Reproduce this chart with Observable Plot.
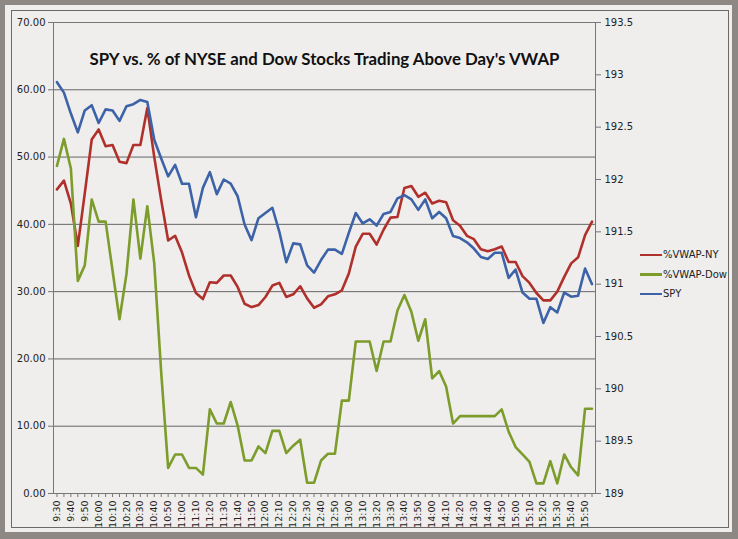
<!DOCTYPE html>
<html><head><meta charset="utf-8">
<script src="https://cdn.jsdelivr.net/npm/d3@7"></script>
<script src="https://cdn.jsdelivr.net/npm/@observablehq/plot@0.6"></script>
<style>
html,body{margin:0;padding:0;background:#8a8580;}
#wrap{position:relative;width:738px;height:539px;background:#8d8883;overflow:hidden;}
#inner{position:absolute;left:5px;top:5px;width:727px;height:527px;background:#efeeec;}
#frame{position:absolute;left:11px;top:10px;width:716px;height:516px;border:1px solid #6d6a66;}
#chart{position:absolute;left:0;top:0;}
#legend{position:absolute;left:640px;top:245px;font:10px "DejaVu Sans",sans-serif;color:#222;}
#legend div{height:19.5px;display:flex;align-items:center;}
#legend span.sw{display:inline-block;width:22px;height:2.5px;margin-right:1px;}
</style></head>
<body>
<div id="wrap"><div id="inner"></div><div id="frame"></div><div id="chart"></div>
<div id="legend"></div></div>
<script>
const title = "SPY vs. % of NYSE and Dow Stocks Trading Above Day's VWAP";
const times = ["9:30","9:35","9:40","9:45","9:50","9:55",
"10:00","10:05","10:10","10:15","10:20","10:25","10:30","10:35","10:40","10:45","10:50","10:55",
"11:00","11:05","11:10","11:15","11:20","11:25","11:30","11:35","11:40","11:45","11:50","11:55",
"12:00","12:05","12:10","12:15","12:20","12:25","12:30","12:35","12:40","12:45","12:50","12:55",
"13:00","13:05","13:10","13:15","13:20","13:25","13:30","13:35","13:40","13:45","13:50","13:55",
"14:00","14:05","14:10","14:15","14:20","14:25","14:30","14:35","14:40","14:45","14:50","14:55",
"15:00","15:05","15:10","15:15","15:20","15:25","15:30","15:35","15:40","15:45","15:50","15:55"];
const vwapNY = [45.2,46.5,43.1,36.8,44.6,52.6,54.1,51.6,51.8,49.3,49.1,51.8,51.8,57.3,
50.0,43.6,37.6,38.3,35.8,32.4,29.8,28.9,
31.4,31.3,32.4,32.4,30.7,28.2,27.7,28.0,29.2,30.9,31.3,29.2,29.6,30.8,29.0,27.6,28.1,29.3,29.6,30.2,32.7,36.7,38.6,38.6,37.0,39.2,41.0,41.1,
45.4,45.7,44.1,44.7,43.1,43.5,43.3,40.6,39.8,38.3,37.8,36.3,36.0,36.3,36.7,34.4,34.4,32.3,31.3,29.8,28.7,28.7,30.0,32.2,34.2,35.1,38.4,40.4];
const vwapDow = [48.7,52.7,48.3,31.6,33.9,43.7,40.4,40.4,33.1,25.9,32.6,43.7,34.9,42.7,34.2,
18.0,3.8,5.8,5.8,3.8,3.8,2.8,
12.5,10.4,10.4,13.6,10.1,4.9,4.9,7.0,6.0,9.3,9.3,6.0,7.1,8.0,1.6,1.6,4.9,5.9,5.9,13.8,13.8,22.6,22.6,22.6,18.2,22.6,22.6,27.2,
29.5,27.0,22.7,25.9,17.1,18.2,15.9,10.4,11.5,11.5,11.5,11.5,11.5,11.5,12.5,9.2,6.9,5.8,4.7,1.5,1.5,4.8,1.5,5.8,3.9,2.7,12.6,12.6];
const spy = [192.93,192.83,192.63,192.45,192.66,192.71,192.54,192.67,192.66,192.56,192.70,192.72,192.76,192.74,
192.38,192.20,192.03,192.14,191.96,191.96,191.64,191.92,192.07,191.86,192.00,191.96,191.84,191.57,191.42,191.63,
191.68,191.73,191.50,191.21,191.39,191.38,191.18,191.11,191.23,191.33,191.33,191.29,191.49,191.68,191.58,191.62,
191.56,191.67,191.69,191.82,191.85,191.81,191.71,191.81,191.63,191.69,191.63,191.46,191.44,191.40,191.34,191.26,
191.24,191.30,191.30,191.06,191.14,190.92,190.86,190.86,190.63,190.78,190.73,190.92,190.88,190.89,191.15,191.00];
const leftTicks = [0,10,20,30,40,50,60,70];
const rightTicks = [189,189.5,190,190.5,191,191.5,192,192.5,193,193.5];
const seriesNames = ["%VWAP-NY","%VWAP-Dow","SPY"];
const seriesColors = ["#b0302c","#7c9c2c","#3c62a8"];

const rMin = 189, rMax = 193.5, lMax = 70;
const toLeft = v => (v - rMin) * lMax / (rMax - rMin);
const toRight = v => rMin + v * (rMax - rMin) / lMax;

const rows = times.map((t, i) => ({time: t, ny: vwapNY[i], dow: vwapDow[i], spy: toLeft(spy[i])}));
const font = "DejaVu Sans, sans-serif";

const chart = Plot.plot({
  width: 738, height: 539,
  marginLeft: 53, marginRight: 143, marginTop: 22, marginBottom: 46,
  style: {background: "transparent", fontFamily: font, fontSize: "9.5px", color: "#222"},
  x: {type: "point", domain: times, padding: 0.5},
  y: {domain: [0, 70]},
  marks: [
    Plot.gridY(leftTicks, {stroke: "#666", strokeOpacity: 1, strokeWidth: 1}),
    Plot.frame({stroke: "#777"}),
    Plot.axisY(leftTicks, {anchor: "left", tickFormat: d => d.toFixed(2), tickSize: 5, tickPadding: 3, label: null, stroke: "#777", fontSize: 10}),
    Plot.axisY(rightTicks.map(toLeft), {anchor: "right", tickFormat: d => String(+toRight(d).toFixed(1)), tickSize: 5, tickPadding: 4, label: null, stroke: "#777", fontSize: 10}),
    Plot.axisX(times, {anchor: "bottom", tickRotate: -90, tickSize: 4, tickPadding: 3, label: null, stroke: "#777",
      tickFormat: t => (+t.split(":")[1]) % 10 === 0 ? t : ""}),
    Plot.line(rows, {x: "time", y: "ny", stroke: seriesColors[0], strokeWidth: 2.6}),
    Plot.line(rows, {x: "time", y: "dow", stroke: seriesColors[1], strokeWidth: 2.6}),
    Plot.line(rows, {x: "time", y: "spy", stroke: seriesColors[2], strokeWidth: 2.6}),
    Plot.text([title], {frameAnchor: "top", dy: 30, text: d => d, fontFamily: "Lato, sans-serif", fontWeight: "bold", fontSize: 17, fill: "#111", className: "ttl"})
  ]
});
document.getElementById("chart").appendChild(chart);
d3.select(chart).selectAll(".ttl text").attr("textLength", 470).attr("lengthAdjust", "spacingAndGlyphs");

const lg = d3.select("#legend");
seriesNames.forEach((n, i) => {
  const row = lg.append("div");
  row.append("span").attr("class", "sw").style("background", seriesColors[i]);
  row.append("span").text(n);
});
</script>
</body></html>
